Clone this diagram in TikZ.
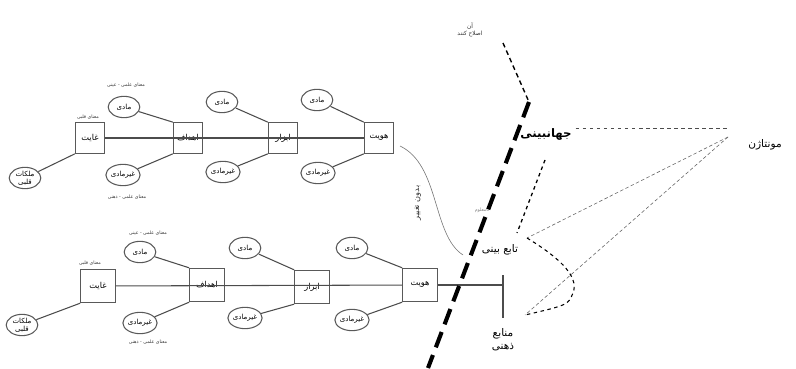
\documentclass[tikz,border=0pt]{standalone}
\usepackage{fontspec}
\newfontfamily\arabicfont[Script=Arabic]{DejaVu Sans}
\TeXXeTstate=1
\usetikzlibrary{shapes.geometric,positioning}
\newcommand{\fa}[1]{{\arabicfont\beginR #1\endR}}

\begin{document}
\begin{tikzpicture}[x=0.03cm,y=-0.03cm,
  box/.style={draw=black!65,line width=0.9pt,minimum width=0.88cm,minimum height=0.92cm,inner sep=1pt,font=\scriptsize},
  bigbox/.style={box,minimum width=1.04cm,minimum height=1cm},
  ell/.style={ellipse,draw=black!65,line width=0.9pt,minimum width=0.95cm,minimum height=0.64cm,inner sep=0pt,font=\fontsize{6}{7}\selectfont,align=center},
  link/.style={draw=black!70,line width=0.9pt},
  note/.style={font=\fontsize{4}{5}\selectfont,text=black!80}]
  \useasboundingbox (0,0) rectangle (796,368);

  % top row
  \node[box] (g1) at (90,138) {\fa{غایت}};
  \node[box] (h1) at (188,138) {\fa{اهداف}};
  \node[box] (a1) at (283,138) {\fa{ابزار}};
  \node[box] (i1) at (379,138) {\fa{هویت}};
  \node[ell] (m1) at (124,107) {\fa{مادی}};
  \node[ell] (n1) at (123,175) {\fa{غیرمادی}};
  \node[ell] (m2) at (222,102) {\fa{مادی}};
  \node[ell] (n2) at (223,172) {\fa{غیرمادی}};
  \node[ell] (m3) at (317,100) {\fa{مادی}};
  \node[ell] (n3) at (318,173) {\fa{غیرمادی}};
  \node[ell] (q1) at (25,178) {\fa{ملکات}\\\fa{قلبی}};
  \node[note] (t1) at (88,117) {\fa{معنای قلبی}};
  \node[note] (t2) at (126,85) {\fa{معنای علمی - عینی}};
  \node[note] (t3) at (127,197) {\fa{معنای علمی - ذهنی}};
  \draw[link] (g1) -- (i1);
  \draw[link] (q1) -- (g1.south west);
  \draw[link] (m1) -- (h1.north west);
  \draw[link] (n1) -- (h1.south west);
  \draw[link] (m2) -- (a1.north west);
  \draw[link] (n2) -- (a1.south west);
  \draw[link] (m3) -- (i1.north west);
  \draw[link] (n3) -- (i1.south west);

  % bottom row
  \node[bigbox] (g2) at (98,286) {\fa{غایت}};
  \node[bigbox] (h2) at (207,285) {\fa{اهداف}};
  \node[bigbox] (a2) at (312,287) {\fa{ابزار}};
  \node[bigbox] (i2) at (420,285) {\fa{هویت}};
  \node[ell] (m4) at (140,252) {\fa{مادی}};
  \node[ell] (n4) at (140,323) {\fa{غیرمادی}};
  \node[ell] (m5) at (245,248) {\fa{مادی}};
  \node[ell] (n5) at (245,318) {\fa{غیرمادی}};
  \node[ell] (m6) at (352,248) {\fa{مادی}};
  \node[ell] (n6) at (352,320) {\fa{غیرمادی}};
  \node[ell] (q2) at (22,325) {\fa{ملکات}\\\fa{قلبی}};
  \node[note] (t4) at (90,263) {\fa{معنای قلبی}};
  \node[note] (t5) at (148,233) {\fa{معنای علمی - عینی}};
  \node[note] (t6) at (148,342) {\fa{معنای علمی - ذهنی}};
  \coordinate (br) at (503,285);
  \coordinate (bt) at (503,275);
  \coordinate (bb) at (503,318);
  \draw[link] (g2) -- (i2);
  \draw[link] (i2) -- (br);
  \draw[link] (bt) -- (bb);
  \draw[link] (q2) -- (g2.south west);
  \draw[link] (m4) -- (h2.north west);
  \draw[link] (n4) -- (h2.south west);
  \draw[link] (m5) -- (a2.north west);
  \draw[link] (n5) -- (a2.south west);
  \draw[link] (m6) -- (i2.north west);
  \draw[link] (n6) -- (i2.south west);

  % middle: change curve and cut line
  \coordinate (cs) at (400,146);
  \coordinate (ce) at (463,255);
  \draw[black!55,line width=0.5pt] (cs) .. controls (440,165) and (432,235) .. (ce);
  \node[note,font=\scriptsize,rotate=90] (bd) at (418,203) {\fa{بدون تغییر}};
  \node[note,text=black!50] (nm) at (482,210) {\fa{نامعلوم}};
  \coordinate (k0) at (503,43);
  \coordinate (k1) at (529,102);
  \coordinate (k2) at (428,368);
  \draw[line width=1.2pt,dash pattern=on 4pt off 3pt] (k0) -- (k1);
  \draw[line width=3.5pt,dash pattern=on 14pt off 7pt] (k1) -- (k2);
  \node[note,font=\tiny,align=center] (ak) at (470,30) {\fa{آن}\\\fa{اصلاح کنند}};

  % right side
  \node[font=\normalsize\bfseries] (jh) at (546,134) {\fa{جهانبینی}};
  \node[font=\small] (tb) at (500,250) {\fa{تابع بینی}};
  \node[font=\small,align=center] (mz) at (503,340) {\fa{منابع}\\\fa{ذهنی}};
  \node[font=\small] (mn) at (765,145) {\fa{مونتاژن}};
  \coordinate (hz) at (728,128);
  \coordinate (mt) at (728,137);
  \coordinate (c1) at (527,238);
  \coordinate (c2) at (525,315);
  \coordinate (d0) at (545,160);
  \coordinate (d1) at (517,233);
  \draw[dashed,black!70,line width=0.7pt] (jh.east |- hz) -- (hz);
  \draw[densely dashed,black!60,line width=0.5pt] (mt) -- (c1);
  \draw[densely dashed,black!60,line width=0.5pt] (mt) -- (c2);
  \draw[dashed,line width=1.1pt] (d0) -- (d1);
  \draw[dashed,line width=0.9pt] (c1) .. controls (555,255) and (580,275) .. (573,293)
    .. controls (568,305) .. (c2);
\end{tikzpicture}
\end{document}
